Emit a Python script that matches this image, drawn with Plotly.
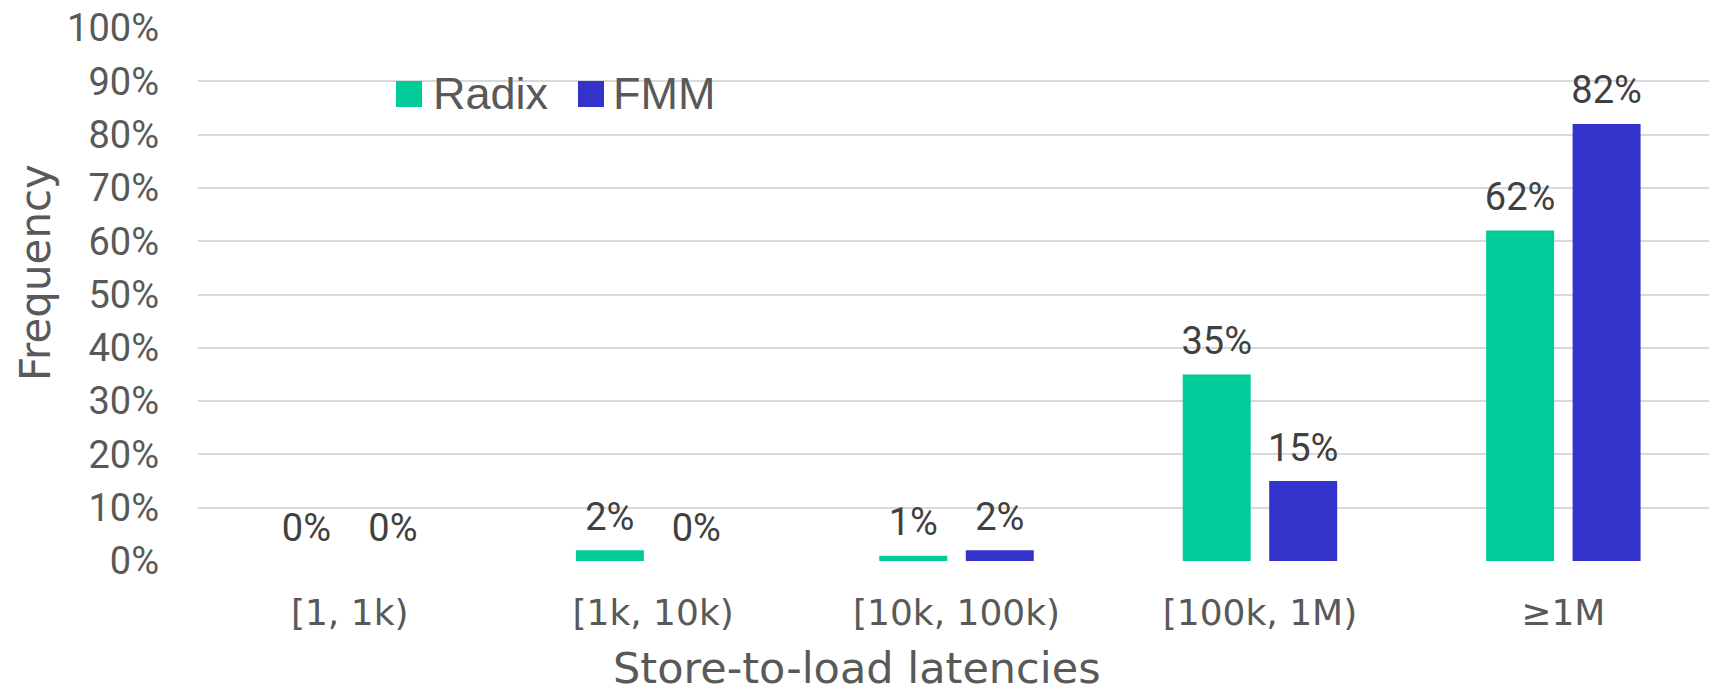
import plotly.graph_objects as go

categories = ["[1, 1k)", "[1k, 10k)", "[10k, 100k)", "[100k, 1M)", "\u22651M"]
series_names = ["Radix", "FMM"]
radix_values = [0.00, 0.02, 0.01, 0.35, 0.62]
fmm_values = [0.00, 0.00, 0.02, 0.15, 0.82]
series_colors = ["#00CC99", "#3333CC"]
y_ticks = [i / 10 for i in range(11)]
y_tick_labels = [f"{int(round(t * 100))}%" for t in y_ticks]

W, H = 1709, 693
ML, MR, MT, MB = 198, 0, 28, 132
PW, PH = W - ML - MR, H - MT - MB
BARGAP = 0.43


def px2x(px):
    return (px - ML) / PW


def px2y(py):
    return (H - MB - py) / PH


NUM_FONT = "Roboto, Liberation Sans, Arial, sans-serif"
TXT_FONT = "DejaVu Sans, Verdana, sans-serif"
LEG_FONT = "Liberation Sans, Arial, sans-serif"

fig = go.Figure()
all_values = [radix_values, fmm_values]
for i, (name, vals, col) in enumerate(zip(series_names, all_values, series_colors)):
    fig.add_trace(go.Bar(
        x=categories, y=vals, name=name,
        marker=dict(color=col, line=dict(width=0)),
        offsetgroup=str(i),
        showlegend=False,
        hoverinfo="skip",
    ))
# data labels, grouped like the bars (invisible marker sets the gap above the bar)
for i, (name, vals) in enumerate(zip(series_names, all_values)):
    fig.add_trace(go.Scatter(
        x=categories, y=vals, name=name + " labels",
        mode="markers+text",
        marker=dict(size=16, opacity=0, color="white"),
        text=[f"{round(v * 100):.0f}%" for v in vals],
        textposition="top center",
        textfont=dict(family=NUM_FONT, size=38, color="#404040"),
        offsetgroup=str(i), orientation="v",
        cliponaxis=False,
        showlegend=False,
        hoverinfo="skip",
    ))

shapes = []
annotations = []
# custom legend
leg_sq = [(396, 422), (578, 604)]
leg_txt_x = [431, 611]
for (x0, x1), tx, name, col in zip(leg_sq, leg_txt_x, series_names, series_colors):
    shapes.append(dict(type="rect", xref="paper", yref="paper",
                       x0=px2x(x0), x1=px2x(x1), y0=px2y(107), y1=px2y(81),
                       fillcolor=col, line=dict(width=0)))
    annotations.append(dict(xref="paper", yref="paper", x=px2x(tx), y=px2y(93),
                            xanchor="left", yanchor="middle", text=name, showarrow=False,
                            font=dict(family=LEG_FONT, size=45, color="#595959")))

# axis titles
annotations.append(dict(xref="paper", yref="paper", x=px2x(35.5), y=px2y(272.5),
                        xanchor="center", yanchor="middle", text="Frequency", textangle=-90,
                        showarrow=False, font=dict(family=TXT_FONT, size=42, color="#595959")))
annotations.append(dict(xref="paper", yref="paper", x=px2x(857), y=px2y(668),
                        xanchor="center", yanchor="middle", text="Store-to-load latencies",
                        showarrow=False, font=dict(family=TXT_FONT, size=43, color="#595959")))

fig.update_layout(
    width=W, height=H, autosize=False,
    margin=dict(l=ML, r=MR, t=MT, b=MB, pad=0),
    paper_bgcolor="white", plot_bgcolor="white",
    barmode="group", bargap=BARGAP, bargroupgap=0.214,
    scattermode="group", scattergap=BARGAP,
    shapes=shapes, annotations=annotations,
    xaxis=dict(
        type="category", categoryorder="array", categoryarray=categories,
        range=[-0.5, 4.48], showgrid=False, zeroline=False, showline=False,
        ticks="", ticklabelstandoff=27,
        tickfont=dict(family=TXT_FONT, size=36, color="#595959"),
        fixedrange=True,
    ),
    yaxis=dict(
        range=[0, 1], tickvals=y_ticks, ticktext=y_tick_labels,
        showgrid=True, gridcolor="#d9d9d9", gridwidth=1.5,
        zeroline=False, showline=False, ticks="", ticklabelstandoff=38,
        tickfont=dict(family=NUM_FONT, size=38, color="#595959"),
        fixedrange=True,
    ),
)

fig.write_html("out.html")
